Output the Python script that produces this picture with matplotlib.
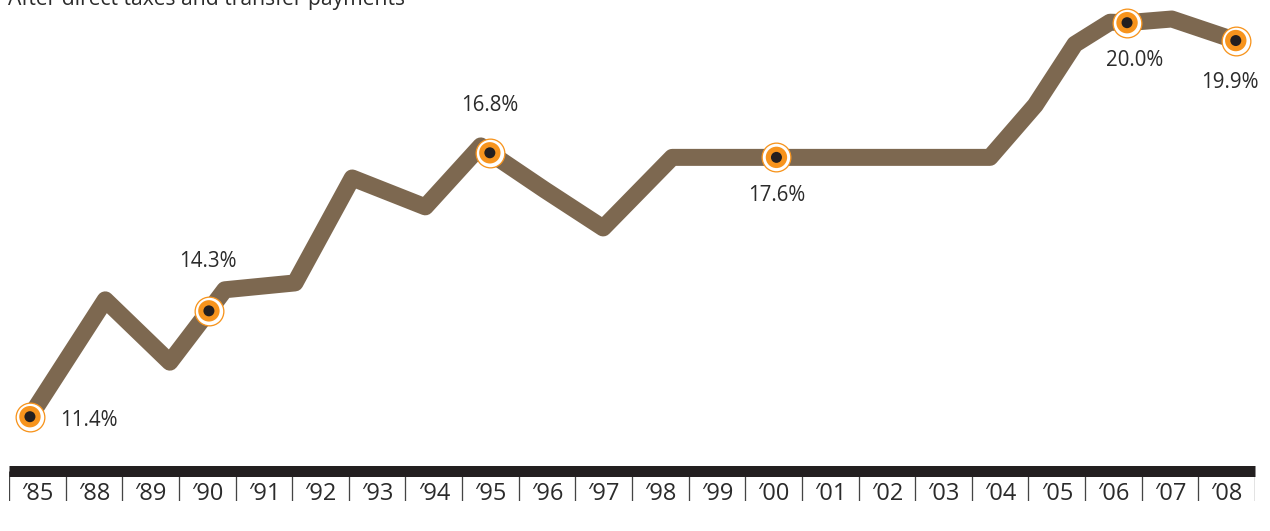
import matplotlib
matplotlib.use("Agg")
import matplotlib.pyplot as plt

# ---- data ----
years = ["85", "88", "89", "90", "91", "92", "93", "94", "95", "96", "97",
         "98", "99", "00", "01", "02", "03", "04", "05", "06", "07", "08"]
# line vertices: position along the year axis (category index) and value (%)
line_x = [-0.13, 1.20, 2.34, 3.03, 3.31, 4.55, 5.56, 6.85, 7.83, 7.99, 8.96,
          9.99, 11.21, 13.05, 16.82, 17.62, 18.32, 18.94, 19.24, 20.03, 21.16]
line_y = [11.40, 13.95, 12.59, 13.71, 14.17, 14.32, 16.61, 15.98, 17.31, 17.16,
          16.35, 15.52, 17.06, 17.06, 17.06, 18.20, 19.53, 20.01, 20.00, 20.08, 19.61]
# highlighted points (indices into the line arrays) and their labels
marker_idx = [0, 3, 9, 13, 18, 20]
marker_labels = ["11.4%", "14.3%", "16.8%", "17.6%", "20.0%", "19.9%"]
title = "After direct taxes and transfer payments"

# ---- style ----
W, H = 1270, 531
LINE = "#7d6850"
ORANGE = "#f7941d"
DARK = "#231f20"
TEXT = "#2b2b2b"
FONT = ["Open Sans", "DejaVu Sans"]
PX = 0.72  # points per pixel at dpi 100

fig = plt.figure(figsize=(W / 100, H / 100), dpi=100)
ax = fig.add_axes([0, 0, 1, 1])
ax.set_xlim(-0.6585, 21.764)
ax.set_ylim(8.905, 20.495)
ax.axis("off")

ax.plot(line_x, line_y, color=LINE, lw=17 * PX, solid_joinstyle="round",
        solid_capstyle="butt", zorder=2)

mx = [line_x[i] for i in marker_idx]
my = [line_y[i] for i in marker_idx]
ax.scatter(mx, my, s=(28.7 * PX) ** 2, facecolor="white", edgecolor=ORANGE,
           linewidths=1.3 * PX, zorder=3)
ax.scatter(mx, my, s=(21.4 * PX) ** 2, facecolor=ORANGE, edgecolor="none", zorder=4)
ax.scatter(mx, my, s=(11 * PX) ** 2, facecolor=DARK, edgecolor="none", zorder=5)

offsets = [(30, -4, "left"), (-1, 49, "center"), (0, 47, "center"),
           (0, -38.5, "center"), (8, -38, "center"), (-6, -42, "center")]
for x, y, lab, (dx, dy, ha) in zip(mx, my, marker_labels, offsets):
    ax.annotate(lab, (x, y), xytext=(dx, dy), textcoords="offset pixels",
                ha=ha, va="center", fontsize=14.8, color=TEXT, family=FONT,
                zorder=6)

fig.text(8 / W, 1 - 5 / H, title, ha="left", va="baseline", fontsize=15.2,
         color=TEXT, family=FONT)

# ---- category axis bar ----
ax2 = fig.add_axes([9 / W, 30 / H, 1246 / W, 30.5 / H])
ax2.set_xlim(-0.5, len(years) - 0.5)
ax2.set_ylim(0, 1)
for s in ["left", "right", "bottom"]:
    ax2.spines[s].set_visible(False)
ax2.spines["top"].set_linewidth(11 * PX)
ax2.spines["top"].set_color(DARK)
ax2.spines["top"].set_capstyle("butt")
ax2.set_xticks([])
ax2.set_yticks([])
ax2.patch.set_alpha(0)
ax2.vlines([i - 0.5 for i in range(len(years) + 1)], 0, 1, color="#444444",
           lw=1.3 * PX)
for i, yr in enumerate(years):
    ax2.text(i, 0.02, "\u2032" + yr, ha="center", va="baseline", fontsize=17,
             color=TEXT, family=FONT)

fig.savefig("out.png", dpi=100)
